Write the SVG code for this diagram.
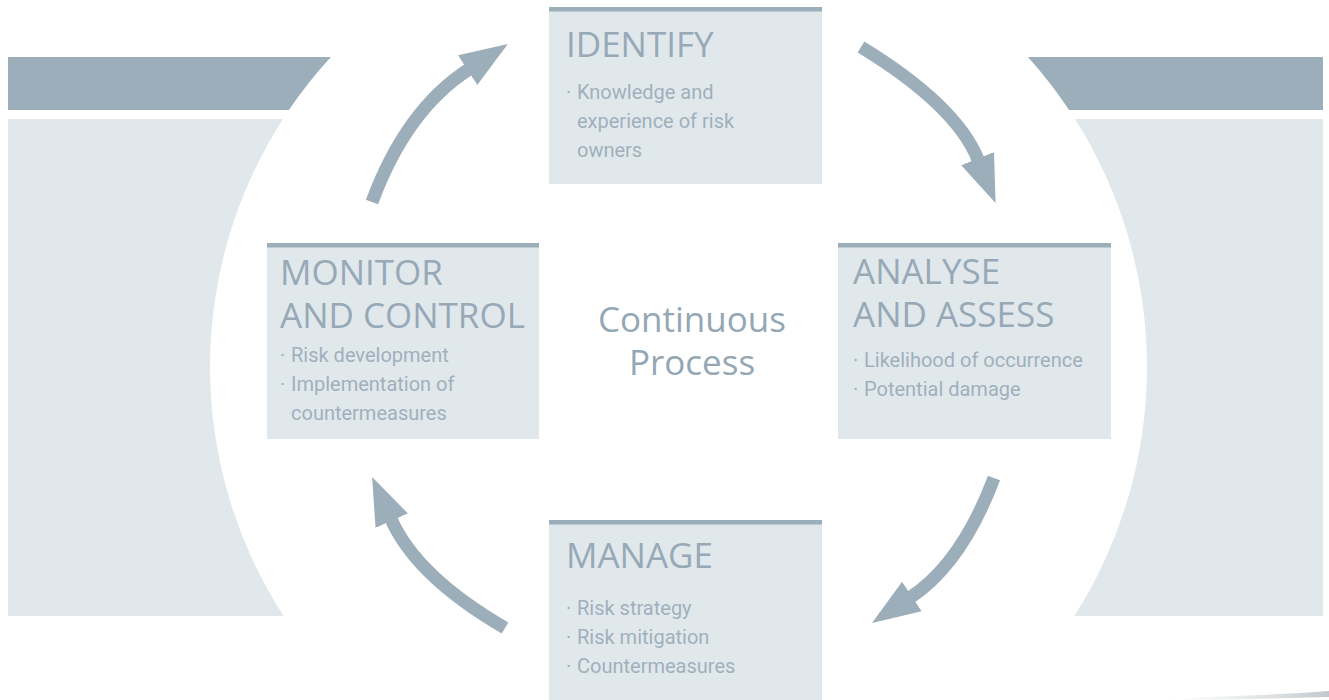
<svg xmlns="http://www.w3.org/2000/svg" width="1329" height="700" viewBox="0 0 1329 700">
<style>
.dark{fill:#9daebb}
.light{fill:#e1e8ec}
.box{fill:#e1e8ec}
.bar{fill:#9daebb}
.title{font-family:"Open Sans","Liberation Sans",sans-serif;font-size:35px;fill:#97a9b6}
.item{font-family:Roboto,"Liberation Sans",sans-serif;font-size:20px;fill:#9fb0bc}
.center{font-family:"Open Sans","Liberation Sans",sans-serif;font-size:35px;fill:#94a7b5;text-anchor:middle}
.arrow{fill:none;stroke:#9daebb;stroke-width:13;stroke-linecap:butt}
</style>
<defs>
<marker id="head" markerUnits="userSpaceOnUse" markerWidth="50" markerHeight="40" refX="1" refY="17" orient="auto" viewBox="0 0 48 34">
<path d="M0,0 L46,17 L0,34 Z" fill="#9daebb"/>
</marker>
<linearGradient id="curl" x1="0" y1="0" x2="1" y2="0">
<stop offset="0" stop-color="#b5bfc6" stop-opacity="0"/>
<stop offset="1" stop-color="#8e9aa3" stop-opacity="0.9"/>
</linearGradient>
</defs>
<rect width="1329" height="700" fill="#ffffff"/>
<g id="background">
<path class="dark" d="M8,57 L330.9,57 A458,458 0 0,0 288.9,110 L8,110 Z"/>
<path class="light" d="M8,119 L283,119 A458,458 0 0,0 283.6,616 L8,616 Z"/>
<path class="dark" d="M1027.9,57 L1323,57 L1323,110 L1069.1,110 A463,463 0 0,0 1027.9,57 Z"/>
<path class="light" d="M1075,119 L1323,119 L1323,616 L1074.3,616 A463,463 0 0,0 1075,119 Z"/>
<path d="M1170,698 Q1260,696 1329,691 L1329,697 Q1260,699 1170,700 Z" fill="url(#curl)" opacity="0.6"/>
</g>
<g id="connectors">
<path class="arrow" d="M861,47 Q956,105 978,159.5" marker-end="url(#head)"/>
<path class="arrow" d="M994,478 Q962,563 911,597" marker-end="url(#head)"/>
<path class="arrow" d="M505,628 Q417,577 391.3,519.7" marker-end="url(#head)"/>
<path class="arrow" d="M372,202 Q406,110 468.5,69.5" marker-end="url(#head)"/>
</g>
<g id="identify">
<rect class="box" x="549" y="7" width="273" height="177"/>
<rect class="bar" x="549" y="7" width="273" height="4.5"/>
<text class="title" x="566" y="57">IDENTIFY</text>
<text class="item" x="566" y="99">·</text>
<text class="item" x="577" y="99">Knowledge and</text>
<text class="item" x="577" y="128">experience of risk</text>
<text class="item" x="577" y="157">owners</text>
</g>
<g id="analyse">
<rect class="box" x="838" y="243" width="273" height="196"/>
<rect class="bar" x="838" y="243" width="273" height="4.5"/>
<text class="title" x="853" y="284">ANALYSE<tspan x="853" y="327">AND ASSESS</tspan></text>
<text class="item" x="853" y="367">·</text>
<text class="item" x="864" y="367">Likelihood of occurrence</text>
<text class="item" x="853" y="396">·</text>
<text class="item" x="864" y="396">Potential damage</text>
</g>
<g id="manage">
<rect class="box" x="549" y="520" width="273" height="180"/>
<rect class="bar" x="549" y="520" width="273" height="4.5"/>
<text class="title" x="566" y="568">MANAGE</text>
<text class="item" x="566" y="615">·</text>
<text class="item" x="577" y="615">Risk strategy</text>
<text class="item" x="566" y="644">·</text>
<text class="item" x="577" y="644">Risk mitigation</text>
<text class="item" x="566" y="673">·</text>
<text class="item" x="577" y="673">Countermeasures</text>
</g>
<g id="monitor">
<rect class="box" x="267" y="243" width="272" height="196"/>
<rect class="bar" x="267" y="243" width="272" height="4.5"/>
<text class="title" x="280" y="285">MONITOR<tspan x="280" y="328">AND CONTROL</tspan></text>
<text class="item" x="280" y="362">·</text>
<text class="item" x="291" y="362">Risk development</text>
<text class="item" x="280" y="391">·</text>
<text class="item" x="291" y="391">Implementation of</text>
<text class="item" x="291" y="420">countermeasures</text>
</g>
<g id="center">
<text class="center" x="692" y="332">Continuous<tspan x="692" y="375">Process</tspan></text>
</g>
</svg>
